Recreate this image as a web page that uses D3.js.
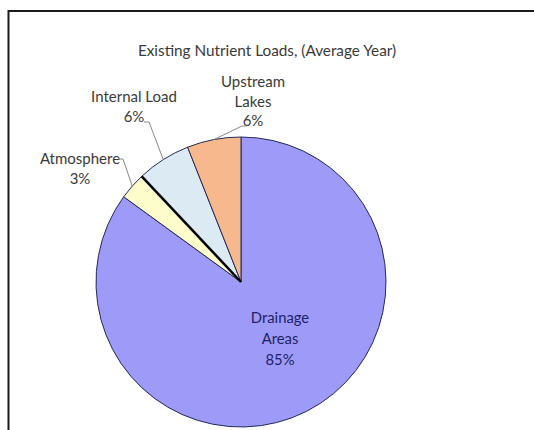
<!DOCTYPE html>
<html>
<head>
<meta charset="utf-8">
<script src="https://cdn.jsdelivr.net/npm/d3@7"></script>
<style>
  body { margin: 0; background: #fff; }
  text { font-family: Lato, "Open Sans", sans-serif; }
</style>
</head>
<body>
<div class="chart"></div>
<script>
// values, clockwise from 12 o'clock
var categories = ["Drainage Areas", "Atmosphere", "Internal Load", "Upstream Lakes"];
var shares = [85, 3, 6, 6];
var labelLines = [["Drainage", "Areas"], ["Atmosphere"], ["Internal Load"], ["Upstream", "Lakes"]];
var fills = ["#9d9bf7", "#fdfccb", "#dcebf3", "#f7b88e"];

var svgWidth = 534;
var svgHeight = 430;
var cx = 241, cy = 282, radius = 145;

var svg = d3.select(".chart")
  .append("svg")
  .attr("width", svgWidth)
  .attr("height", svgHeight);

// frame (runs off right and bottom edge like the screenshot)
svg.append("rect")
  .attr("x", 8.5)
  .attr("y", 11)
  .attr("width", 540)
  .attr("height", 440)
  .attr("fill", "#fff")
  .attr("stroke", "#1a1a1a")
  .attr("stroke-width", 2);

svg.append("text")
  .attr("x", 267)
  .attr("y", 56)
  .attr("text-anchor", "middle")
  .attr("font-size", 15.3)
  .attr("fill", "#3a3a3a")
  .text("Existing Nutrient Loads, (Average Year)");

var data = categories.map(function(c, i) {
  return { name: c, value: shares[i], lines: labelLines[i], fill: fills[i] };
});

var pie = d3.pie().sort(null).value(d => d.value);
var arcs = pie(data);

var arc = d3.arc().innerRadius(0).outerRadius(radius);
var edgeArc = d3.arc().innerRadius(radius).outerRadius(radius);

var g = svg.append("g")
  .attr("transform", `translate(${cx}, ${cy})`);

g.selectAll("path.slice")
  .data(arcs)
  .enter()
  .append("path")
  .attr("class", "slice")
  .attr("d", arc)
  .attr("fill", d => d.data.fill)
  .attr("stroke", "#232a5a")
  .attr("stroke-width", 1);

// heavier black edge between Atmosphere and Internal Load
var internal = arcs[2];
g.append("line")
  .attr("x1", 0).attr("y1", 0)
  .attr("x2", radius * Math.sin(internal.startAngle))
  .attr("y2", -radius * Math.cos(internal.startAngle))
  .attr("stroke", "#000")
  .attr("stroke-width", 2.5);

// label placement (text block centre, first baseline) for the outside labels
var labelPos = {
  "Atmosphere": { x: 80, y: 164, tick: [123, 159] },
  "Internal Load": { x: 134, y: 102, tick: [149, 122] },
  "Upstream Lakes": { x: 253, y: 87, tick: [242, 126] }
};

arcs.forEach(function(d) {
  var lines = d.data.lines.concat([d.data.value + "%"]);
  if (d.index === 0) {
    var t = svg.append("text")
      .attr("text-anchor", "middle")
      .attr("font-size", 14.8)
      .attr("fill", "#1f2266");
    lines.forEach(function(l, i) {
      t.append("tspan").attr("x", 280).attr("y", 323 + i * 21).text(l);
    });
    return;
  }
  var p = labelPos[d.data.name];
  var t = svg.append("text")
    .attr("text-anchor", "middle")
    .attr("font-size", 15)
    .attr("fill", "#3a3a3a");
  lines.forEach(function(l, i) {
    t.append("tspan").attr("x", p.x).attr("y", p.y + i * 19.5).text(l);
  });
  // leader line from label to middle of slice edge
  var e = edgeArc.centroid(d);
  var tx = p.tick[0], ty = p.tick[1];
  var dir = d.index === 3 ? 1 : -1;
  svg.append("path")
    .attr("d", `M${tx + dir * 5},${ty} L${tx},${ty} L${cx + e[0]},${cy + e[1]}`)
    .attr("fill", "none")
    .attr("stroke", "#8a8a8a")
    .attr("stroke-width", 1);
});
</script>
</body>
</html>
